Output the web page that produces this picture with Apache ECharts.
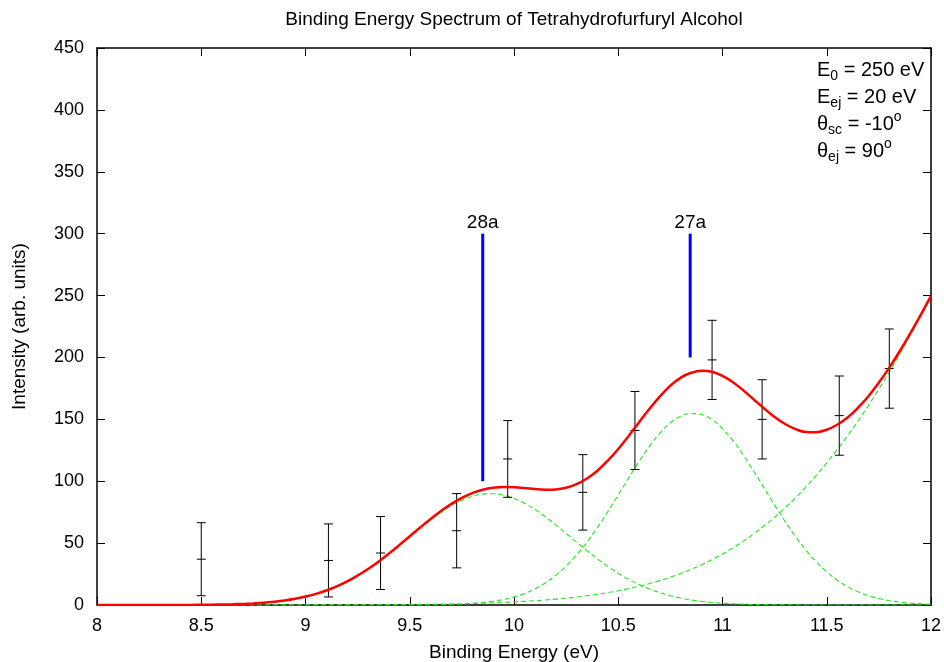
<!DOCTYPE html>
<html>
<head>
<meta charset="utf-8">
<script src="https://cdn.jsdelivr.net/npm/echarts@6/dist/echarts.min.js"></script>
<style>html,body{margin:0;padding:0;background:#fff;}#c{width:944px;height:662px;}</style>
</head>
<body>
<div id="c"></div>
<script>
// Measured points with error bars
const ptsX = [8.5, 9.11, 9.36, 9.725, 9.97, 10.33, 10.58, 10.95, 11.19, 11.56, 11.80];
const ptsY = [37, 36, 42, 60, 118, 91, 141, 198, 150, 153, 191];
const ptsErr = [29.5, 29.5, 29.5, 30, 31, 30.5, 31.5, 32, 32, 32, 32];

// Curve sample grid (binding energy, eV)
const curveX = [
  8.00, 8.05, 8.10, 8.15, 8.20, 8.25, 8.30, 8.35, 8.40, 8.45, 8.50, 8.55, 8.60, 8.65, 8.70, 8.75, 8.80, 8.85, 8.90, 8.95,
  9.00, 9.05, 9.10, 9.15, 9.20, 9.25, 9.30, 9.35, 9.40, 9.45, 9.50, 9.55, 9.60, 9.65, 9.70, 9.75, 9.80, 9.85, 9.90, 9.95,
  10.00, 10.05, 10.10, 10.15, 10.20, 10.25, 10.30, 10.35, 10.40, 10.45, 10.50, 10.55, 10.60, 10.65, 10.70, 10.75, 10.80, 10.85, 10.90, 10.95,
  11.00, 11.05, 11.10, 11.15, 11.20, 11.25, 11.30, 11.35, 11.40, 11.45, 11.50, 11.55, 11.60, 11.65, 11.70, 11.75, 11.80, 11.85, 11.90, 11.95, 12.00];
// Green dashed component curves
const comp1 = [
  0, 0, 0, 0, 0.01, 0.01, 0.02, 0.04, 0.06, 0.1, 0.15, 0.24, 0.37, 0.57, 0.85, 1.25, 1.8, 2.56, 3.6, 4.93,
  6.7, 8.88, 11.6, 14.95, 18.9, 23.6, 28.9, 34.8, 41.2, 48.0, 55.0, 62.0, 68.7, 74.9, 80.3, 84.7, 87.9, 89.6, 89.9, 88.7,
  86.1, 82.2, 77.2, 71.3, 64.7, 57.8, 50.8, 43.9, 37.3, 31.2, 25.6, 20.7, 16.5, 12.9, 9.9, 7.5, 5.6, 4.08, 2.9, 2.08,
  1.4, 0.99, 0.67, 0.44, 0.29, 0.18, 0.12, 0.07, 0.05, 0.03, 0.02, 0.01, 0.01, 0, 0, 0, 0, 0, 0, 0, 0];
const comp2 = [
  0, 0, 0, 0, 0, 0, 0, 0, 0, 0, 0, 0, 0, 0, 0, 0, 0, 0, 0, 0,
  0, 0, 0, 0, 0, 0, 0.01, 0.01, 0.02, 0.03, 0.06, 0.1, 0.17, 0.29, 0.48, 0.79, 1.25, 1.95, 3.0, 4.45,
  6.5, 9.3, 13.0, 17.8, 23.9, 31.4, 40.4, 50.8, 62.6, 75.4, 88.9, 102.7, 116.0, 128.3, 138.9, 147.2, 152.6, 154.7, 153.9, 149.7,
  142.5, 132.8, 121.1, 108.1, 94.4, 80.7, 67.6, 55.4, 44.4, 34.8, 26.8, 20.1, 14.8, 10.7, 7.5, 5.2, 3.5, 2.3, 1.5, 0.95, 0.6];
const comp3 = [
  0, 0, 0, 0, 0, 0, 0, 0, 0.01, 0.01, 0.01, 0.01, 0.01, 0.01, 0.02, 0.02, 0.02, 0.03, 0.04, 0.05,
  0.06, 0.07, 0.09, 0.11, 0.13, 0.16, 0.19, 0.24, 0.29, 0.35, 0.42, 0.51, 0.62, 0.74, 0.89, 1.07, 1.27, 1.51, 1.79, 2.12,
  2.5, 2.95, 3.5, 4.07, 4.75, 5.5, 6.4, 7.5, 8.6, 10.0, 11.5, 13.2, 15.2, 17.3, 19.7, 22.5, 25.5, 28.8, 32.5, 36.7,
  41.2, 46.2, 51.6, 57.5, 64.0, 70.9, 78.5, 86.6, 95.4, 104.8, 114.8, 125.5, 136.7, 148.7, 161.2, 174.5, 188.3, 202.7, 217.7, 233.2, 249.2];
// Red total fit curve
const fitY = [
  0, 0, 0, 0, 0.01, 0.01, 0.02, 0.04, 0.07, 0.1, 0.16, 0.25, 0.38, 0.58, 0.87, 1.27, 1.8, 2.59, 3.6, 4.98,
  6.8, 8.95, 11.7, 15.06, 19.0, 23.8, 29.1, 35.0, 41.5, 48.4, 55.5, 62.6, 69.5, 75.9, 81.7, 86.6, 90.4, 93.1, 94.7, 95.3,
  95.1, 94.5, 93.7, 93.2, 93.4, 94.7, 97.6, 102.2, 108.5, 116.6, 126.0, 136.6, 147.7, 158.5, 168.5, 177.2, 183.7, 187.6, 189.3, 188.5,
  185.1, 180.0, 173.4, 166.0, 158.7, 151.8, 146.2, 142.1, 139.8, 139.6, 141.6, 145.6, 151.5, 159.4, 168.7, 179.7, 191.8, 205.0, 219.2, 234.2, 249.8];

// Orbital markers
const peakX = [9.85, 10.845];
const peakLow = [100, 200];
const peakHigh = [300, 300];
const peakLabels = ['28a', '27a'];

const F = 'Liberation Sans, Arial, Helvetica, sans-serif';
const pair = (ys) => curveX.map((x, i) => [x, ys[i]]);

const chart = echarts.init(document.getElementById('c'), null, {renderer: 'canvas'});

const axisCommonX = {
  type: 'value', min: 8, max: 12, interval: 0.5,
  axisLine: {show: true, onZero: false, lineStyle: {color: '#000', width: 1.5}},
  axisTick: {show: true, inside: true, length: 8, lineStyle: {color: '#000', width: 1}},
  splitLine: {show: false}
};
const axisCommonY = {
  type: 'value', min: 0, max: 450, interval: 50,
  axisLine: {show: true, onZero: false, lineStyle: {color: '#000', width: 1.5}},
  axisTick: {show: true, inside: true, length: 8, lineStyle: {color: '#000', width: 1}},
  splitLine: {show: false}
};

const option = {
  animation: false,
  backgroundColor: '#fff',
  title: {
    text: 'Binding Energy Spectrum of Tetrahydrofurfuryl Alcohol',
    left: 514, textAlign: 'center', top: 10, padding: 0,
    textStyle: {fontFamily: F, fontSize: 19, fontWeight: 'normal', color: '#000'}
  },
  grid: {left: 97, right: 13, top: 48, bottom: 57, containLabel: false, outerBoundsMode: 'none'},
  xAxis: [
    Object.assign({}, axisCommonX, {
      position: 'bottom',
      name: 'Binding Energy (eV)', nameLocation: 'middle', nameGap: 38,
      nameTextStyle: {fontFamily: F, fontSize: 19, color: '#000'},
      axisLabel: {show: true, margin: 12, fontFamily: F, fontSize: 18, color: '#000'}
    }),
    Object.assign({}, axisCommonX, {position: 'top', axisLabel: {show: false}})
  ],
  yAxis: [
    Object.assign({}, axisCommonY, {
      position: 'left',
      name: 'Intensity (arb. units)', nameLocation: 'middle', nameGap: 68,
      nameTextStyle: {fontFamily: F, fontSize: 19, color: '#000'},
      axisLabel: {show: true, margin: 13, fontFamily: F, fontSize: 18, color: '#000'}
    }),
    Object.assign({}, axisCommonY, {position: 'right', axisLabel: {show: false}})
  ],
  graphic: [{
    type: 'text', left: 817, top: 60, z: 100,
    style: {
      text: [
        '{m|E}{b|0}{m| = 250 eV}',
        '{m|E}{b|ej}{m| = 20 eV}',
        '{m|θ}{b|sc}{m| = -10}{p|o}',
        '{m|θ}{b|ej}{m| = 90}{p|o}'
      ].join('\n'),
      fill: '#000', fontFamily: F, fontSize: 20,
      rich: {
        m: {fontFamily: F, fontSize: 20, fill: '#000', verticalAlign: 'middle'},
        b: {fontFamily: F, fontSize: 14, fill: '#000', padding: [13, 0, 0, 0], verticalAlign: 'bottom'},
        p: {fontFamily: F, fontSize: 14, fill: '#000', padding: [0, 0, 13, 0], verticalAlign: 'top'}
      }
    }
  }],
  series: [
    {type: 'line', name: 'c1', data: pair(comp1), showSymbol: false, smooth: 0.4, z: 2,
     lineStyle: {color: '#22e622', width: 1.1, type: [5, 3]}},
    {type: 'line', name: 'c2', data: pair(comp2), showSymbol: false, smooth: 0.4, z: 2,
     lineStyle: {color: '#22e622', width: 1.1, type: [5, 3]}},
    {type: 'line', name: 'c3', data: pair(comp3), showSymbol: false, smooth: 0.4, z: 2,
     lineStyle: {color: '#22e622', width: 1.1, type: [5, 3]}},
    {
      type: 'custom', name: 'data', z: 3,
      data: ptsX.map((x, i) => [x, ptsY[i] - ptsErr[i], ptsY[i] + ptsErr[i], ptsY[i]]),
      encode: {x: 0, y: [1, 2, 3]},
      renderItem: function (params, api) {
        const x = api.value(0);
        const pLo = api.coord([x, api.value(1)]);
        const pHi = api.coord([x, api.value(2)]);
        const pC = api.coord([x, api.value(3)]);
        const w = 4.5;
        const st = {stroke: '#000', lineWidth: 1};
        return {type: 'group', children: [
          {type: 'line', shape: {x1: pLo[0], y1: pLo[1], x2: pHi[0], y2: pHi[1]}, style: st},
          {type: 'line', shape: {x1: pLo[0] - w, y1: pLo[1], x2: pLo[0] + w, y2: pLo[1]}, style: st},
          {type: 'line', shape: {x1: pHi[0] - w, y1: pHi[1], x2: pHi[0] + w, y2: pHi[1]}, style: st},
          {type: 'line', shape: {x1: pC[0] - w, y1: pC[1], x2: pC[0] + w, y2: pC[1]}, style: st}
        ]};
      }
    },
    {type: 'line', name: 'fit', data: pair(fitY), showSymbol: false, smooth: 0.4, z: 4,
     lineStyle: {color: '#ff0000', width: 2.5}},
    {
      type: 'custom', name: 'orbitals', z: 5,
      data: peakX.map((x, i) => [x, peakLow[i], peakHigh[i]]),
      encode: {x: 0, y: [1, 2]},
      renderItem: function (params, api) {
        const x = api.value(0);
        const pLo = api.coord([x, api.value(1)]);
        const pHi = api.coord([x, api.value(2)]);
        return {type: 'group', children: [
          {type: 'line', shape: {x1: pLo[0], y1: pLo[1], x2: pHi[0], y2: pHi[1]},
           style: {stroke: '#0000ff', lineWidth: 3}},
          {type: 'text', x: pHi[0], y: pHi[1] - 1,
           style: {text: peakLabels[params.dataIndex], align: 'center', verticalAlign: 'bottom',
                   fontFamily: F, fontSize: 19, fill: '#000'}}
        ]};
      }
    }
  ]
};
chart.setOption(option);
</script>
</body>
</html>
